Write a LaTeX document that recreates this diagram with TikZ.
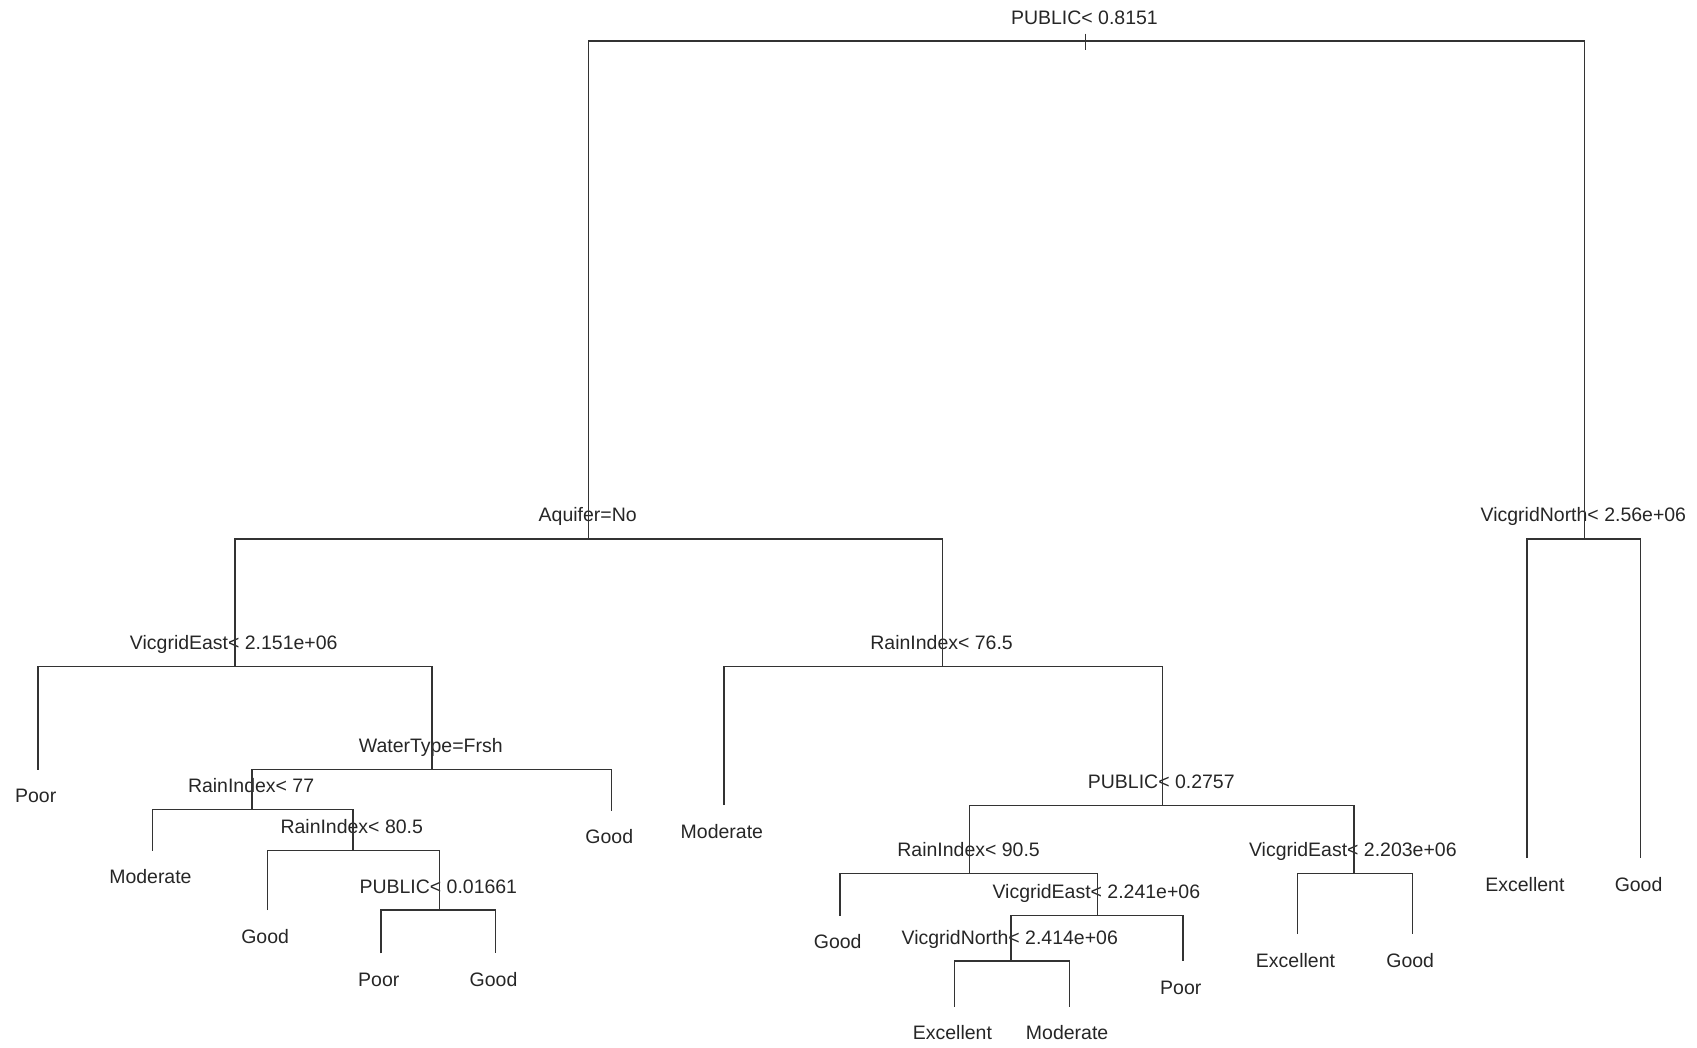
\documentclass[tikz,border=0pt]{standalone}
\usepackage{fontspec}
\setmainfont{Liberation Sans}

\begin{document}
\begin{tikzpicture}[x=1pt, y=-1pt,
    branch/.style={draw=black!80, line width=1.3pt},
    cond/.style={inner sep=0pt, text height=13pt, text depth=0pt, font=\fontsize{18}{20}\selectfont, text=black!85, xshift=-1pt},
    splitlbl/.style={label={[cond, label distance=15.5pt]above:#1}},
    leaflbl/.style={label={[cond, label distance=17.5pt, xshift=-1pt]below:#1}}]
    \useasboundingbox (0,0) rectangle (1568,968);

    % splits
    \coordinate[splitlbl={PUBLIC< 0.8151}] (root) at (1003,38);
    \coordinate[splitlbl={Aquifer=No}] (aquifer) at (544,498);
    \coordinate[splitlbl={VicgridNorth< 2.56e+06}] (vnorth1) at (1464,498);
    \coordinate[splitlbl={VicgridEast< 2.151e+06}] (veast1) at (217,616);
    \coordinate[splitlbl={RainIndex< 76.5}] (rain1) at (871,616);
    \coordinate[splitlbl={WaterType=Frsh}] (water) at (399,711);
    \coordinate[splitlbl={RainIndex< 77}] (rain2) at (233,748);
    \coordinate[splitlbl={RainIndex< 80.5}] (rain3) at (326,786);
    \coordinate[splitlbl={PUBLIC< 0.01661}] (public2) at (406,841);
    \coordinate[splitlbl={PUBLIC< 0.2757}] (public3) at (1074,744);
    \coordinate[splitlbl={RainIndex< 90.5}] (rain4) at (896,807);
    \coordinate[splitlbl={VicgridEast< 2.203e+06}] (veast3) at (1251,807);
    \coordinate[splitlbl={VicgridEast< 2.241e+06}] (veast2) at (1014,846);
    \coordinate[splitlbl={VicgridNorth< 2.414e+06}] (vnorth2) at (934,888);

    % leaves
    \coordinate[leaflbl=Excellent] (exc1) at (1411,793);
    \coordinate[leaflbl=Good] (good1) at (1516,793);
    \coordinate[leaflbl=Poor] (poor1) at (35,711);
    \coordinate[leaflbl=Good] (good2) at (565,749);
    \coordinate[leaflbl=Moderate] (mod1) at (141,786);
    \coordinate[leaflbl=Good] (good3) at (247,841);
    \coordinate[leaflbl=Poor] (poor2) at (352,881);
    \coordinate[leaflbl=Good] (good4) at (458,881);
    \coordinate[leaflbl=Moderate] (mod2) at (669,744);
    \coordinate[leaflbl=Good] (good5) at (776,846);
    \coordinate[leaflbl=Poor] (poor3) at (1093,888);
    \coordinate[leaflbl=Excellent] (exc2) at (882,930);
    \coordinate[leaflbl=Moderate] (mod3) at (988,930);
    \coordinate[leaflbl=Excellent] (exc3) at (1199,863);
    \coordinate[leaflbl=Good] (good6) at (1305,863);

    % branches
    \draw[branch] ([yshift=7pt]root) -- ([yshift=-8pt]root);
    \draw[branch] (aquifer) |- (root) -| (vnorth1);
    \draw[branch] (veast1) |- (aquifer) -| (rain1);
    \draw[branch] (exc1) |- (vnorth1) -| (good1);
    \draw[branch] (poor1) |- (veast1) -| (water);
    \draw[branch] (rain2) |- (water) -| (good2);
    \draw[branch] (mod1) |- (rain2) -| (rain3);
    \draw[branch] (good3) |- (rain3) -| (public2);
    \draw[branch] (poor2) |- (public2) -| (good4);
    \draw[branch] (mod2) |- (rain1) -| (public3);
    \draw[branch] (rain4) |- (public3) -| (veast3);
    \draw[branch] (good5) |- (rain4) -| (veast2);
    \draw[branch] (vnorth2) |- (veast2) -| (poor3);
    \draw[branch] (exc2) |- (vnorth2) -| (mod3);
    \draw[branch] (exc3) |- (veast3) -| (good6);
\end{tikzpicture}
\end{document}
